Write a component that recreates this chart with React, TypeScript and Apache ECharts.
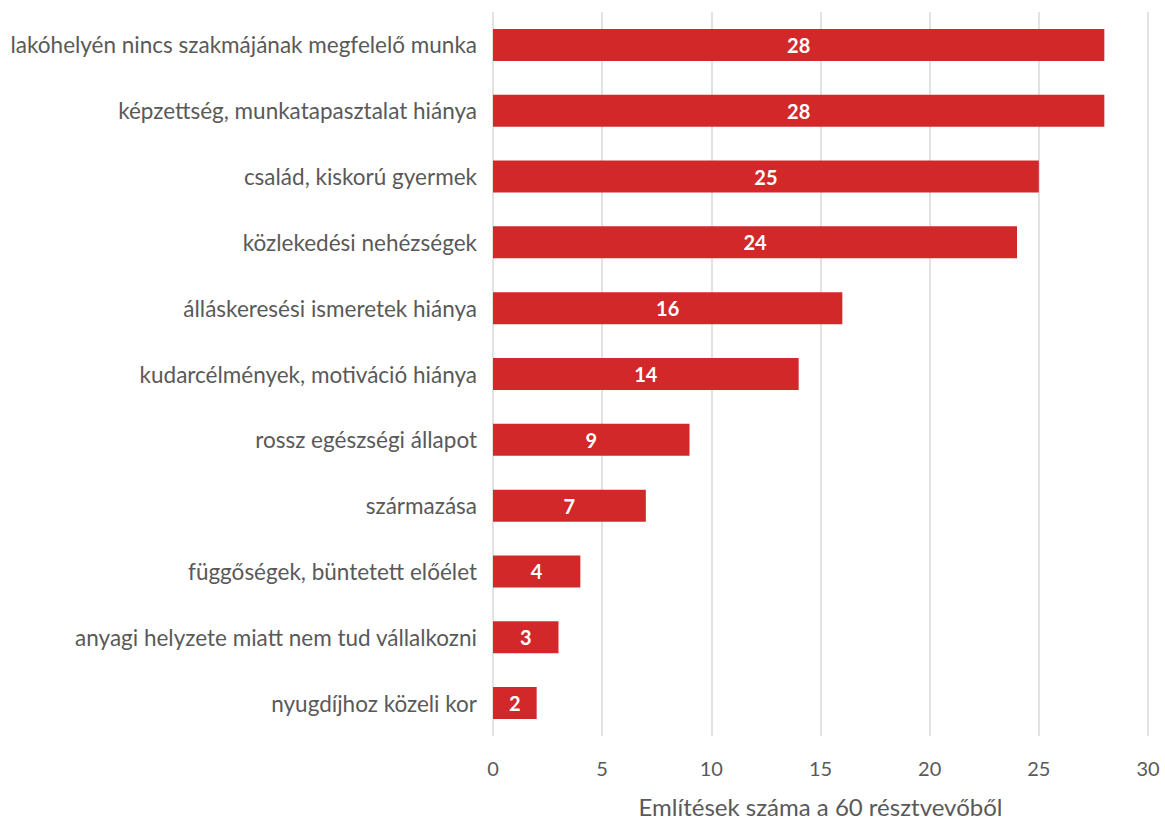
import React, { useEffect, useRef } from "react";
import * as echarts from "echarts";

const categories = [
  "lakóhelyén nincs szakmájának megfelelő munka",
  "képzettség, munkatapasztalat hiánya",
  "család, kiskorú gyermek",
  "közlekedési nehézségek",
  "álláskeresési ismeretek hiánya",
  "kudarcélmények, motiváció hiánya",
  "rossz egészségi állapot",
  "származása",
  "függőségek, büntetett előélet",
  "anyagi helyzete miatt nem tud vállalkozni",
  "nyugdíjhoz közeli kor",
];
const values = [28, 28, 25, 24, 16, 14, 9, 7, 4, 3, 2];
const axisTitle = "Említések száma a 60 résztvevőből";

export default function App() {
  const ref = useRef<HTMLDivElement>(null);
  useEffect(() => {
    const chart = echarts.init(ref.current!, null, { renderer: "svg" });
    const font = "Lato, 'Open Sans', sans-serif";
    chart.setOption({
      animation: false,
      textStyle: { fontFamily: font },
      grid: { left: 493, right: 17, top: 12, bottom: 81, containLabel: false },
      xAxis: {
        type: "value",
        min: 0,
        max: 30,
        interval: 5,
        name: axisTitle,
        nameLocation: "middle",
        nameGap: 58,
        nameTextStyle: { color: "#595959", fontSize: 24, fontFamily: font },
        axisLine: { show: false },
        axisTick: { show: false },
        axisLabel: { color: "#595959", fontSize: 20, margin: 22, fontFamily: font },
        splitLine: { show: true, lineStyle: { color: "#d9d9d9", width: 1.5 } },
      },
      yAxis: {
        type: "category",
        data: categories,
        inverse: true,
        axisLine: { show: false },
        axisTick: { show: false },
        axisLabel: { color: "#595959", fontSize: 22.5, margin: 16, fontFamily: font },
      },
      series: [
        {
          type: "bar",
          data: values,
          barWidth: 32,
          itemStyle: { color: "#d2282a" },
          label: {
            show: true,
            position: "inside",
            color: "#ffffff",
            fontWeight: "bold",
            fontSize: 20,
            fontFamily: font,
          },
        },
      ],
    });
    return () => chart.dispose();
  }, []);
  return <div ref={ref} style={{ width: 1165, height: 823, position: "absolute", left: 0, top: 0 }} />;
}
